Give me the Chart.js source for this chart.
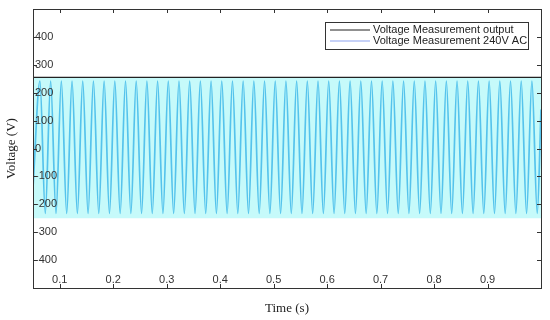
<!DOCTYPE html>
<html>
<head>
<meta charset="utf-8">
<script src="https://cdn.jsdelivr.net/npm/chart.js@4.4.0/dist/chart.umd.min.js"></script>
<style>
  body { margin: 0; background: #fff; }
  canvas { display: block; }
</style>
</head>
<body>
<canvas id="voltChart" width="550" height="320"></canvas>
<script>
// Time of each peak / trough of the 240V AC wave (s)
const acTime = [0.05,
  0.063, 0.073, 0.083, 0.093, 0.103, 0.113, 0.123, 0.133, 0.143, 0.153,
  0.163, 0.173, 0.183, 0.193, 0.203, 0.213, 0.223, 0.233, 0.243, 0.253,
  0.263, 0.273, 0.283, 0.293, 0.303, 0.313, 0.323, 0.333, 0.343, 0.353,
  0.363, 0.373, 0.383, 0.393, 0.403, 0.413, 0.423, 0.433, 0.443, 0.453,
  0.463, 0.473, 0.483, 0.493, 0.503, 0.513, 0.523, 0.533, 0.543, 0.553,
  0.563, 0.573, 0.583, 0.593, 0.603, 0.613, 0.623, 0.633, 0.643, 0.653,
  0.663, 0.673, 0.683, 0.693, 0.703, 0.713, 0.723, 0.733, 0.743, 0.753,
  0.763, 0.773, 0.783, 0.793, 0.803, 0.813, 0.823, 0.833, 0.843, 0.853,
  0.863, 0.873, 0.883, 0.893, 0.903, 0.913, 0.923, 0.933, 0.943, 0.953,
  0.963, 0.973, 0.983, 0.993, 1.0];
// Voltage at those times (V)
const acVolt = [-140,
  242, -233, 242, -233, 242, -233, 242, -233, 242, -233,
  242, -233, 242, -233, 242, -233, 242, -233, 242, -233,
  242, -233, 242, -233, 242, -233, 242, -233, 242, -233,
  242, -233, 242, -233, 242, -233, 242, -233, 242, -233,
  242, -233, 242, -233, 242, -233, 242, -233, 242, -233,
  242, -233, 242, -233, 242, -233, 242, -233, 242, -233,
  242, -233, 242, -233, 242, -233, 242, -233, 242, -233,
  242, -233, 242, -233, 242, -233, 242, -233, 242, -233,
  242, -233, 242, -233, 242, -233, 242, -233, 242, -233,
  242, -233, 242, -233, 140];

// Output measurement line
const outTime = [0.05, 1.0];
const outVolt = [255, 255];
const outBandLow = -250;

const xTicks = [0.1, 0.2, 0.3, 0.4, 0.5, 0.6, 0.7, 0.8, 0.9];
const yTicks = [-400, -300, -200, -100, 0, 100, 200, 300, 400];

const seriesLabels = ['Voltage Measurement output', 'Voltage Measurement 240V AC'];

// Box around the plot, inward tick marks and boxed legend
const matlabFrame = {
    id: 'matlabFrame',
    afterDraw(chart) {
        const ctx = chart.ctx;
        const a = chart.chartArea;
        const xs = chart.scales.x, ys = chart.scales.y;
        ctx.save();
        ctx.strokeStyle = '#333';
        ctx.lineWidth = 1;
        ctx.strokeRect(Math.round(a.left) + 0.5, Math.round(a.top) + 0.5,
            Math.round(a.right - a.left), Math.round(a.bottom - a.top));
        ctx.beginPath();
        xTicks.forEach(v => {
            const px = Math.round(xs.getPixelForValue(v)) + 0.5;
            ctx.moveTo(px, a.bottom); ctx.lineTo(px, a.bottom - 4);
            ctx.moveTo(px, a.top); ctx.lineTo(px, a.top + 4);
        });
        yTicks.forEach(v => {
            const py = Math.round(ys.getPixelForValue(v)) + 0.5;
            ctx.moveTo(a.left, py); ctx.lineTo(a.left + 4, py);
            ctx.moveTo(a.right, py); ctx.lineTo(a.right - 4, py);
        });
        ctx.stroke();

        // legend
        const lx = 325, ly = 22, lw = 203, lh = 27;
        ctx.fillStyle = '#fff';
        ctx.fillRect(lx, ly, lw, lh);
        ctx.strokeStyle = '#333';
        ctx.strokeRect(lx + 0.5, ly + 0.5, lw, lh);
        ctx.font = '11px "Liberation Sans", Arial, sans-serif';
        ctx.textBaseline = 'middle';
        chart.data.datasets.forEach((ds, i) => {
            const yy = ly + 8 + i * 11;
            ctx.strokeStyle = i === 1 ? '#8ea4f0' : ds.borderColor;
            ctx.lineWidth = 1.2;
            ctx.beginPath();
            ctx.moveTo(lx + 5, yy); ctx.lineTo(lx + 45, yy);
            ctx.stroke();
            ctx.fillStyle = '#222';
            ctx.fillText(ds.label, lx + 48, yy);
        });
        ctx.restore();
    }
};

const ctx = document.getElementById('voltChart').getContext('2d');
new Chart(ctx, {
    type: 'line',
    data: {
        datasets: [{
            label: seriesLabels[0],
            data: outTime.map((t, i) => ({ x: t, y: outVolt[i] })),
            borderColor: '#222',
            borderWidth: 1.2,
            backgroundColor: '#c6fafa',
            fill: { value: outBandLow },
            pointRadius: 0,
            order: 1
        }, {
            label: seriesLabels[1],
            data: acTime.map((t, i) => ({ x: t, y: acVolt[i] })),
            borderColor: '#55c3ec',
            borderWidth: 1.7,
            cubicInterpolationMode: 'monotone',
            fill: false,
            pointRadius: 0,
            order: 0
        }]
    },
    options: {
        responsive: false,
        animation: false,
        layout: { padding: { top: 9, right: 9, left: 0, bottom: 0 } },
        plugins: {
            legend: { display: false },
            tooltip: { enabled: false }
        },
        scales: {
            x: {
                type: 'linear',
                min: 0.05,
                max: 1.0,
                afterBuildTicks: s => { s.ticks = xTicks.map(v => ({ value: v })); },
                afterFit: s => { s.height = 32; },
                grid: { display: false },
                border: { display: false },
                ticks: {
                    z: 1,
                    mirror: true,
                    padding: 1,
                    maxRotation: 0,
                    color: '#333',
                    font: { family: '"Liberation Sans", Arial, sans-serif', size: 11 },
                    callback: v => String(v)
                },
                title: {
                    display: true,
                    text: 'Time (s)',
                    color: '#222',
                    font: { family: '"Liberation Serif", "Times New Roman", serif', size: 13 },
                    padding: { top: 0, bottom: 4 }
                }
            },
            y: {
                min: -500,
                max: 500,
                afterBuildTicks: s => { s.ticks = yTicks.map(v => ({ value: v })); },
                afterFit: s => { s.width = 33; },
                grid: { display: false },
                border: { display: false },
                ticks: {
                    z: 1,
                    mirror: true,
                    padding: 2,
                    color: '#333',
                    font: { family: '"Liberation Sans", Arial, sans-serif', size: 11 }
                },
                title: {
                    display: true,
                    text: 'Voltage (V)',
                    color: '#222',
                    font: { family: '"Liberation Serif", "Times New Roman", serif', size: 13 },
                    padding: { top: 4, bottom: 0 }
                }
            }
        }
    },
    plugins: [matlabFrame]
});
</script>
</body>
</html>
